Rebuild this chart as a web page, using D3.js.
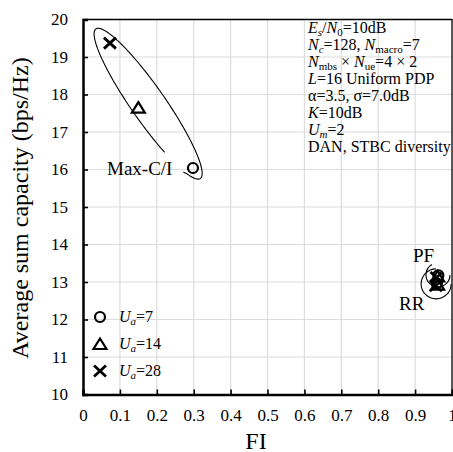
<!DOCTYPE html>
<html>
<head>
<meta charset="utf-8">
<script src="https://cdn.jsdelivr.net/npm/d3@7"></script>
<style>
  body { margin: 0; background: #fff; }
  svg text { font-family: "Liberation Serif", "Times New Roman", Times, serif; fill: #000; }
</style>
</head>
<body>
<svg id="chart" width="453" height="452" style="font-family: 'Liberation Serif', serif"></svg>
<script>
// data
var users = [7, 14, 28];
var symbols = ["circle", "triangle", "cross"];
var maxciFI = [0.298, 0.150, 0.073];
var maxciCap = [16.04, 17.65, 19.37];
var pfFI = [0.963, 0.961, 0.958];
var pfCap = [13.18, 13.15, 13.12];
var rrFI = [0.959, 0.961, 0.956];
var rrCap = [12.96, 12.93, 12.9];
var xTicks = [0, 0.1, 0.2, 0.3, 0.4, 0.5, 0.6, 0.7, 0.8, 0.9, 1];
var xTickLabels = ["0", "0.1", "0.2", "0.3", "0.4", "0.5", "0.6", "0.7", "0.8", "0.9", "1"];
var yTicks = [10, 11, 12, 13, 14, 15, 16, 17, 18, 19, 20];
var notes = [
  [["E", "i"], ["s", "sub-i"], ["/", ""], ["N", "i"], ["0", "sub"], ["=10dB", ""]],
  [["N", "i"], ["c", "sub-i"], ["=128, ", ""], ["N", "i"], ["macro", "sub"], ["=7", ""]],
  [["N", "i"], ["mbs", "sub"], [" \u00d7 ", ""], ["N", "i"], ["ue", "sub"], ["=4 \u00d7 2", ""]],
  [["L", "i"], ["=16 Uniform PDP", ""]],
  [["\u03b1=3.5, \u03c3=7.0dB", ""]],
  [["K", "i"], ["=10dB", ""]],
  [["U", "i"], ["m", "sub-i"], ["=2", ""]],
  [["DAN, STBC diversity", ""]]
];

var FONT = "'Liberation Serif', 'Times New Roman', serif";
var svg = d3.select("#chart");
var x = d3.scaleLinear().domain([0, 1]).range([83, 452]);
var y = d3.scaleLinear().domain([10, 20]).range([394.5, 19.5]);

svg.append("defs").append("clipPath").attr("id", "plotclip")
  .append("rect").attr("x", 83).attr("y", 19.5).attr("width", 369).attr("height", 375);

// grid
svg.append("g").selectAll("line").data(xTicks.slice(1, -1)).enter().append("line")
  .attr("x1", function(d) { return x(d); }).attr("x2", function(d) { return x(d); })
  .attr("y1", y(10)).attr("y2", y(20))
  .attr("stroke", "#dcdcdc").attr("stroke-width", 1.2);
svg.append("g").selectAll("line").data(yTicks.slice(1, -1)).enter().append("line")
  .attr("y1", function(d) { return y(d); }).attr("y2", function(d) { return y(d); })
  .attr("x1", x(0)).attr("x2", x(1))
  .attr("stroke", "#dcdcdc").attr("stroke-width", 1.2);

// frame
svg.append("path")
  .attr("d", "M" + x(0) + "," + y(20) + "H" + x(1) + "V" + y(10))
  .attr("fill", "none").attr("stroke", "#000").attr("stroke-width", 1.3);

// axes with inward ticks
var xAxis = svg.append("g").attr("transform", "translate(0," + y(10) + ")")
  .call(d3.axisBottom(x).tickValues(xTicks).tickSize(-5).tickPadding(14)
    .tickFormat(function(d, i) { return xTickLabels[i]; }));
var yAxis = svg.append("g").attr("transform", "translate(" + x(0) + ",0)")
  .call(d3.axisLeft(y).tickValues(yTicks).tickSize(-5).tickPadding(15));
[xAxis, yAxis].forEach(function(a) {
  a.attr("font-family", FONT).attr("font-size", 17);
  a.select(".domain").attr("stroke-width", 2.5);
  a.selectAll(".tick line").attr("stroke-width", 1.6);
  a.selectAll("text").style("font-family", FONT).attr("font-size", 17);
});
xAxis.selectAll(".tick").filter(function(d) { return d === 0 || d === 1; }).select("line").remove();
yAxis.selectAll(".tick").filter(function(d) { return d === 10 || d === 20; }).select("line").remove();

// axis titles
svg.append("text").attr("x", 256).attr("y", 449).attr("text-anchor", "middle")
  .attr("font-size", 24).style("font-family", FONT).text("FI");
svg.append("text").attr("transform", "translate(28,208) rotate(-90)")
  .attr("text-anchor", "middle").attr("font-size", 24).style("font-family", FONT)
  .text("Average sum capacity (bps/Hz)");

// markers
function drawMarker(g, sym, cx, cy) {
  if (sym === "circle") {
    g.append("circle").attr("cx", cx).attr("cy", cy).attr("r", 5)
      .attr("fill", "none").attr("stroke", "#000").attr("stroke-width", 2.2);
  } else if (sym === "triangle") {
    g.append("path").attr("d", "M" + cx + "," + (cy - 5.5) + "L" + (cx + 6.5) + "," + (cy + 5) +
      "L" + (cx - 6.5) + "," + (cy + 5) + "Z")
      .attr("fill", "none").attr("stroke", "#000").attr("stroke-width", 2.2);
  } else {
    g.append("path").attr("d", "M" + (cx - 6) + "," + (cy - 5.5) + "L" + (cx + 6) + "," + (cy + 5.5) +
      "M" + (cx - 6) + "," + (cy + 5.5) + "L" + (cx + 6) + "," + (cy - 5.5))
      .attr("fill", "none").attr("stroke", "#000").attr("stroke-width", 2.8);
  }
}

var marks = svg.append("g");
[[maxciFI, maxciCap], [pfFI, pfCap], [rrFI, rrCap]].forEach(function(s) {
  s[0].forEach(function(fi, i) { drawMarker(marks, symbols[i], x(fi), y(s[1][i])); });
});

// Max-C/I ellipse (ends of the long axis in data units), open where the label points in
var ellA = [0.035, 19.75], ellB = [0.318, 15.76], ellMinor = 17;
var ax = x(ellA[0]), ay = y(ellA[1]), bx = x(ellB[0]), by = y(ellB[1]);
var ecx = (ax + bx) / 2, ecy = (ay + by) / 2;
var ea = Math.hypot(bx - ax, by - ay) / 2, rot = Math.atan2(by - ay, bx - ax);
var pts = d3.range(1.0, 2 * Math.PI + 0.5, 0.02).map(function(t) {
  var px = ea * Math.cos(t), py = ellMinor * Math.sin(t);
  return [ecx + px * Math.cos(rot) - py * Math.sin(rot), ecy + px * Math.sin(rot) + py * Math.cos(rot)];
});
var tail = pts[pts.length - 1];
pts.push([tail[0] - 4, tail[1] - 2]);
svg.append("path").attr("d", d3.line().curve(d3.curveBasis)(pts))
  .attr("fill", "none").attr("stroke", "#000").attr("stroke-width", 1.1);

// PF / RR circles
var circG = svg.append("g").attr("clip-path", "url(#plotclip)");
circG.append("circle").attr("cx", x(0.962)).attr("cy", y(13.19)).attr("r", 12)
  .attr("fill", "none").attr("stroke", "#000").attr("stroke-width", 1.1)
  .attr("stroke-dasharray", "50,25");
circG.append("circle").attr("cx", x(0.957)).attr("cy", y(12.95)).attr("r", 15)
  .attr("fill", "none").attr("stroke", "#000").attr("stroke-width", 1.1)
  .attr("stroke-dasharray", "70,24");

// labels
svg.append("text").attr("x", 107).attr("y", 175).attr("font-size", 19).style("font-family", FONT).text("Max-C/I");
svg.append("text").attr("x", 413).attr("y", 262).attr("font-size", 19).style("font-family", FONT).text("PF");
svg.append("text").attr("x", 399).attr("y", 310).attr("font-size", 19).style("font-family", FONT).text("RR");

// legend
var leg = svg.append("g");
users.forEach(function(u, i) {
  var ly = 317 + i * 27;
  drawMarker(leg, symbols[i], 100, ly);
  var t = leg.append("text").attr("x", 119).attr("y", ly + 5).attr("font-size", 16).style("font-family", FONT);
  t.append("tspan").attr("font-style", "italic").text("U");
  t.append("tspan").attr("font-style", "italic").attr("font-size", 11).attr("dy", 3).text("a");
  t.append("tspan").attr("dy", -3).text("=" + u);
});

// parameter notes
notes.forEach(function(line, i) {
  var t = svg.append("text").attr("x", 308).attr("y", 33 + i * 17)
    .attr("font-size", 16).style("font-family", FONT);
  var shift = 0;
  line.forEach(function(p) {
    var sp = t.append("tspan").text(p[0]);
    if (p[1] === "i" || p[1] === "sub-i") sp.attr("font-style", "italic");
    if (p[1].indexOf("sub") === 0) {
      sp.attr("font-size", 11).attr("dy", 3 - shift);
      shift = 3;
    } else if (shift) {
      sp.attr("dy", -shift);
      shift = 0;
    }
  });
});
</script>
</body>
</html>
